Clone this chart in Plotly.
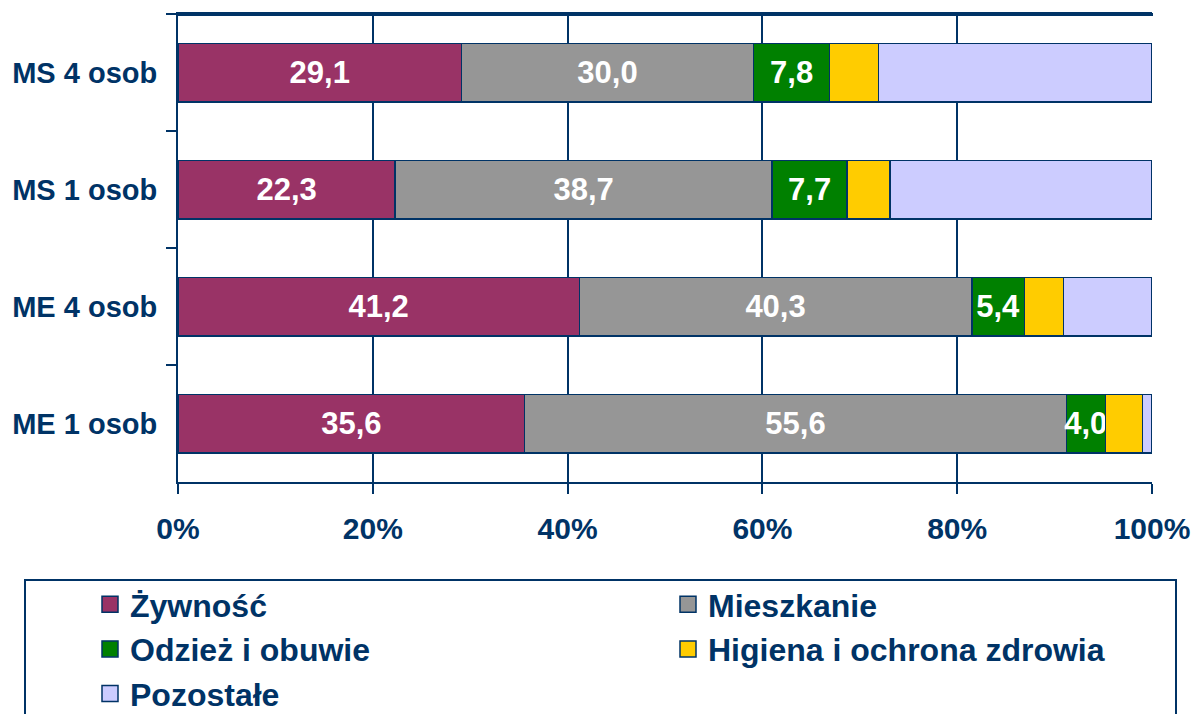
import plotly.graph_objects as go

categories = ["MS 4 osob", "MS 1 osob", "ME 4 osob", "ME 1 osob"]
zywnosc = [29.1, 22.3, 41.2, 35.6]
mieszkanie = [30.0, 38.7, 40.3, 55.6]
odziez = [7.8, 7.7, 5.4, 4.0]
higiena = [5.0, 4.4, 4.0, 3.8]
pozostale = [28.1, 26.9, 9.1, 1.0]

series_names = ["Żywność", "Mieszkanie", "Odzież i obuwie", "Higiena i ochrona zdrowia", "Pozostałe"]
series_values = [zywnosc, mieszkanie, odziez, higiena, pozostale]
series_colors = ["#993366", "#969696", "#008000", "#FFCC00", "#CCCCFF"]
show_labels = [True, True, True, False, False]
legend_ids = ["legend", "legend2", "legend", "legend2", "legend"]

NAVY = "#003366"
FONT = "Liberation Sans, Arial, sans-serif"

W, H = 1195, 714
L, R, T, B = 178, 1152, 14, 482
pw, ph = R - L, B - T

def px_x(p):
    return (p - L) / pw

def px_y(p):
    return (B - p) / ph

fig = go.Figure()
for name, vals, col, lab in zip(series_names, series_values, series_colors, show_labels):
    fig.add_trace(go.Bar(
        y=categories, x=vals, name=name, orientation="h",
        marker=dict(color=col, line=dict(color=NAVY, width=1.5)),
        text=[f"{v:.1f}".replace(".", ",") for v in vals] if lab else None,
        textposition="inside" if lab else "none",
        insidetextanchor="middle",
        constraintext="none",
        textangle=0,
        textfont=dict(family=FONT, size=31, color="white", weight="bold"),
        showlegend=False,
        hoverinfo="skip",
    ))

# legend entries (larger square symbols)
for name, col, lg in zip(series_names, series_colors, legend_ids):
    fig.add_trace(go.Scatter(
        x=[None], y=[None], mode="markers", name=name,
        marker=dict(symbol="square", size=16, color=col, line=dict(color=NAVY, width=1.5)),
        legend=lg, hoverinfo="skip",
    ))

fig.update_layout(
    width=W, height=H,
    barmode="stack",
    bargap=0.5,
    plot_bgcolor="white", paper_bgcolor="white",
    margin=dict(l=L, r=W - R, t=T, b=H - B, autoexpand=False),
    font=dict(family=FONT, color=NAVY, weight="bold"),
    legend=dict(
        x=px_x(90), xanchor="left", y=px_y(577), yanchor="top",
        orientation="v", bgcolor="rgba(0,0,0,0)", borderwidth=0,
        font=dict(family=FONT, size=32, color=NAVY, weight="bold"),
        traceorder="normal", itemclick=False,
    ),
    legend2=dict(
        x=px_x(668), xanchor="left", y=px_y(577), yanchor="top",
        orientation="v", bgcolor="rgba(0,0,0,0)", borderwidth=0,
        font=dict(family=FONT, size=32, color=NAVY, weight="bold"),
        traceorder="normal", itemclick=False,
    ),
    shapes=[
        dict(
            type="rect", xref="paper", yref="paper",
            x0=px_x(25), x1=px_x(1176), y0=px_y(580), y1=px_y(740),
            line=dict(color=NAVY, width=2), fillcolor="rgba(0,0,0,0)", layer="above",
        ),
        dict(
            type="line", xref="paper", yref="paper",
            x0=px_x(177), x1=px_x(1153), y0=px_y(14.5), y1=px_y(14.5),
            line=dict(color=NAVY, width=3), layer="above",
        ),
    ],
)

fig.update_xaxes(
    range=[0, 100], tickvals=[0, 20, 40, 60, 80, 100],
    ticktext=["0%", "20%", "40%", "60%", "80%", "100%"],
    showgrid=True, gridcolor=NAVY, gridwidth=1.5,
    showline=True, linecolor=NAVY, linewidth=2, mirror=True,
    ticks="outside", ticklen=10, tickcolor=NAVY, tickwidth=2,
    tickfont=dict(family=FONT, size=30, color=NAVY, weight="bold"),
    ticklabelstandoff=9, zeroline=False, fixedrange=True,
)
fig.update_yaxes(
    autorange="reversed", type="category",
    showgrid=False, showline=True, linecolor=NAVY, linewidth=2,
    ticks="outside", ticklen=10, tickcolor=NAVY, tickwidth=2, tickson="boundaries",
    tickfont=dict(family=FONT, size=29, color=NAVY, weight="bold"),
    ticklabelstandoff=13, fixedrange=True,
)

fig.write_html(
    "out.html",
    config={"displayModeBar": False},
    post_script="document.body.style.margin='0';document.body.style.overflow='hidden';",
)
